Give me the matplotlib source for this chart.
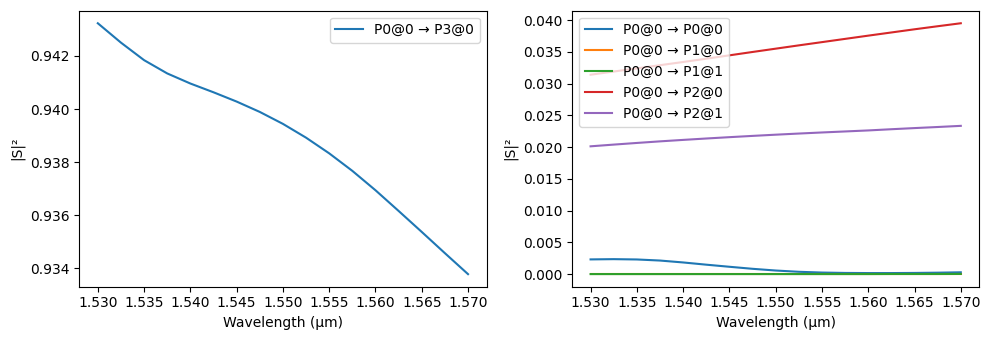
import matplotlib
matplotlib.use("Agg")
import matplotlib.pyplot as plt

wavelength = [1.530, 1.5325, 1.535, 1.5375, 1.540, 1.5425, 1.545, 1.5475, 1.550,
              1.5525, 1.555, 1.5575, 1.560, 1.5625, 1.565, 1.5675, 1.570]

s_p3_0 = [0.94323, 0.94250, 0.94184, 0.94134, 0.94096, 0.94063, 0.94028, 0.93989,
          0.93944, 0.93892, 0.93833, 0.93767, 0.93694, 0.93616, 0.93537, 0.93457, 0.93378]

s_p0_0 = [0.00233, 0.00237, 0.00232, 0.00215, 0.00185, 0.00150, 0.00117, 0.00085,
          0.00058, 0.00038, 0.00026, 0.00020, 0.00018, 0.00018, 0.00020, 0.00024, 0.00030]
s_p1_0 = [0.00001, 0.00001, 0.00001, 0.00001, 0.00001, 0.00001, 0.00001, 0.00001,
          0.00001, 0.00001, 0.00001, 0.00001, 0.00001, 0.00001, 0.00001, 0.00001, 0.00001]
s_p1_1 = [0.00002, 0.00002, 0.00002, 0.00002, 0.00002, 0.00002, 0.00002, 0.00002,
          0.00002, 0.00002, 0.00002, 0.00002, 0.00002, 0.00003, 0.00003, 0.00003, 0.00004]
s_p2_0 = [0.03140, 0.03190, 0.03240, 0.03290, 0.03340, 0.03392, 0.03445, 0.03498,
          0.03550, 0.03602, 0.03653, 0.03704, 0.03755, 0.03805, 0.03855, 0.03903, 0.03950]
s_p2_1 = [0.02013, 0.02040, 0.02066, 0.02091, 0.02114, 0.02136, 0.02157, 0.02177,
          0.02196, 0.02214, 0.02231, 0.02247, 0.02263, 0.02282, 0.02300, 0.02317, 0.02335]

left_labels = ["P0@0 → P3@0"]
right_labels = ["P0@0 → P0@0", "P0@0 → P1@0", "P0@0 → P1@1", "P0@0 → P2@0", "P0@0 → P2@1"]

fig, (ax1, ax2) = plt.subplots(1, 2, figsize=(9.9, 3.4), dpi=100)
fig.subplots_adjust(left=0.0801, right=0.9892, top=0.9685, bottom=0.1568, wspace=0.21)

ax1.plot(wavelength, s_p3_0, label=left_labels[0])
ax1.set_xlabel("Wavelength (µm)")
ax1.set_ylabel("|S|²")
ax1.legend(loc="upper right")

for vals, lab in zip([s_p0_0, s_p1_0, s_p1_1, s_p2_0, s_p2_1], right_labels):
    ax2.plot(wavelength, vals, label=lab)
ax2.set_xlabel("Wavelength (µm)")
ax2.set_ylabel("|S|²")
ax2.legend(loc="upper left")

fig.savefig("out.png", dpi=100)
